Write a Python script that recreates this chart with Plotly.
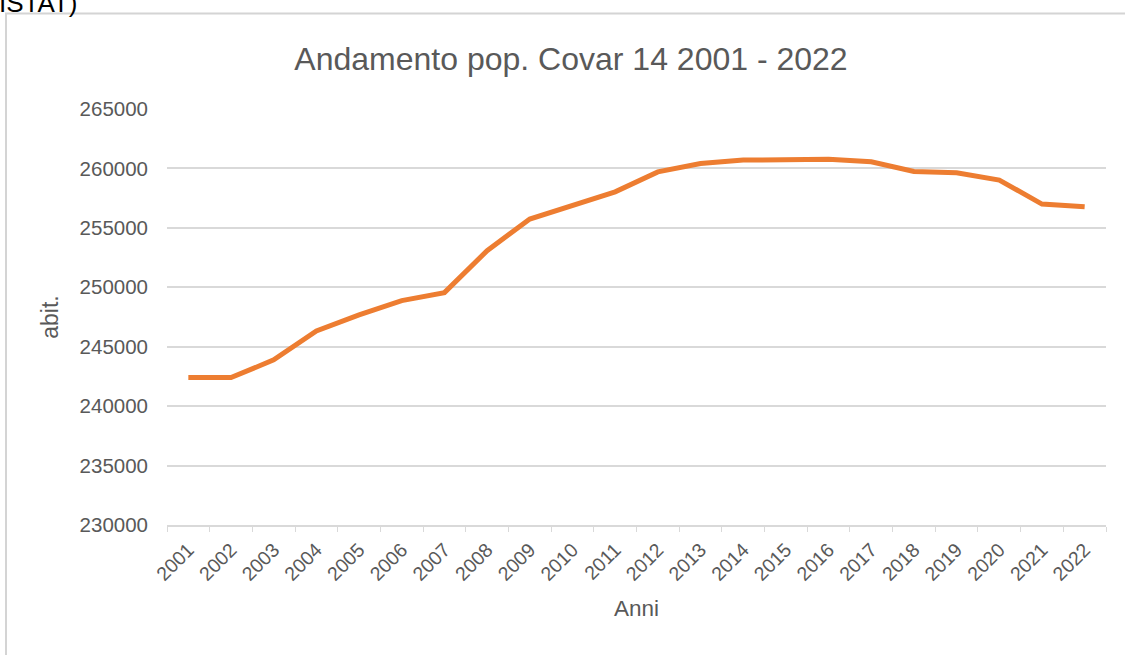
import plotly.graph_objects as go

years = [str(y) for y in range(2001, 2023)]
population = [242400, 242400, 243890, 246330, 247670, 248875, 249550, 253080,
              255740, 256920, 258030, 259710, 260420, 260700, 260700, 260780,
              260560, 259750, 259630, 259020, 257000, 256770]
y_ticks = [230000, 235000, 240000, 245000, 250000, 255000, 260000, 265000]

W, H = 1125, 655
ml, mr, mt, mb = 167, 19, 109, 130

fig = go.Figure()
fig.add_trace(go.Scatter(x=years, y=population, mode="lines",
                         line=dict(color="#ED7D31", width=5), showlegend=False,
                         hoverinfo="skip"))

font_family = "Liberation Sans, Arial, sans-serif"
grey = "#595959"
fig.update_layout(
    width=W, height=H,
    margin=dict(l=ml, r=mr, t=mt, b=mb),
    paper_bgcolor="white", plot_bgcolor="white",
    font=dict(family=font_family, color=grey, size=20),
    title=dict(text="Andamento pop. Covar 14 2001 - 2022", x=571 / W, xanchor="center",
               y=1 - 59 / H, yanchor="middle", font=dict(size=32, color=grey)),
    xaxis=dict(type="category", range=[-0.5, len(years) - 0.5], tickangle=-45,
               tickson="boundaries", ticks="outside",
               ticklen=5, tickcolor="#d9d9d9", showline=True, linecolor="#d9d9d9",
               linewidth=1.5, showgrid=False, ticklabelstandoff=4,
               tickfont=dict(size=19.5, color=grey),
               title=dict(text="Anni", font=dict(size=22.5, color=grey), standoff=16)),
    yaxis=dict(range=[230000, 265000], tickvals=y_ticks, ticktext=[str(v) for v in y_ticks],
               showgrid=True, gridcolor="#d9d9d9", gridwidth=1.5, zeroline=False,
               showline=False, ticks="", ticklabelstandoff=18,
               tickfont=dict(size=20.5, color=grey),
               title=dict(text="abit.", font=dict(size=23, color=grey), standoff=14)),
)

def px_to_paper_x(px):
    return (px - ml) / (W - ml - mr)

def px_to_paper_y(py):
    return (H - mb - py) / (H - mt - mb)

# chart border (extends beyond the visible crop on right/bottom)
fig.add_shape(type="rect", xref="paper", yref="paper",
              x0=px_to_paper_x(6), x1=px_to_paper_x(W + 10),
              y0=px_to_paper_y(H + 10), y1=px_to_paper_y(13.5),
              line=dict(color="#d4d4d4", width=2), fillcolor="rgba(0,0,0,0)", layer="below")

fig.add_annotation(text="ISTAT)", xref="paper", yref="paper",
                   x=px_to_paper_x(-3), y=px_to_paper_y(20), xanchor="left", yanchor="bottom",
                   showarrow=False, font=dict(size=26, color="#000000", family=font_family))

fig.write_html("out.html", config={"displayModeBar": False},
               post_script="document.body.style.margin='0';")
